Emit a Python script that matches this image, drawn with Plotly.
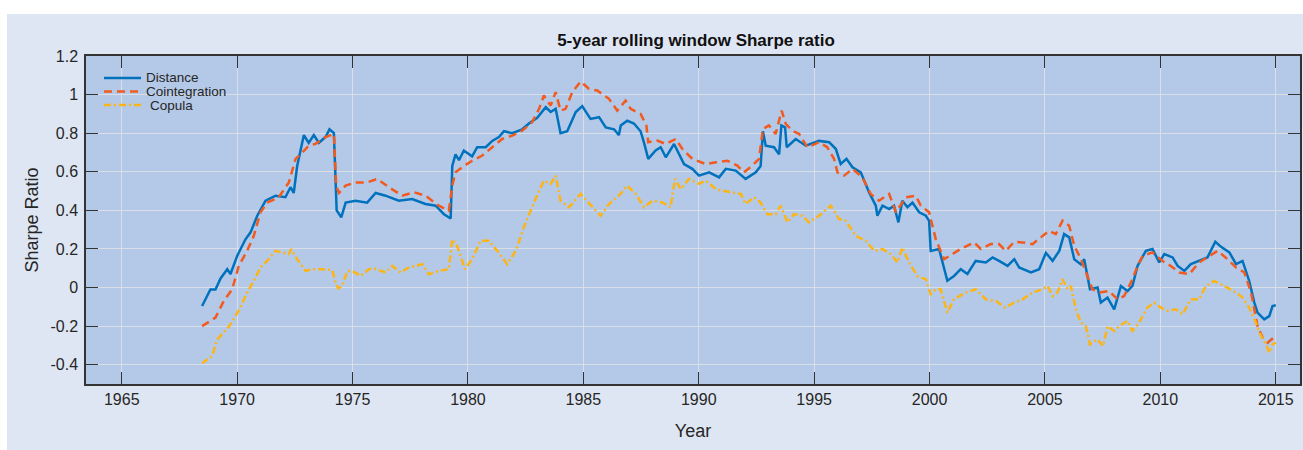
import plotly.graph_objects as go

# ---------------- data ----------------
dist_years = [1968.48, 1968.84, 1969.06, 1969.28, 1969.57, 1969.71, 1970.0, 1970.36, 1970.58, 1970.87,
              1971.23, 1971.66, 1972.09, 1972.31, 1972.45, 1972.6, 1972.89, 1973.1, 1973.32, 1973.54,
              1973.83, 1974.0, 1974.19, 1974.31, 1974.51, 1974.7, 1975.13, 1975.63, 1976.0, 1976.43,
              1977.0, 1977.58, 1978.16, 1978.6, 1978.96, 1979.25, 1979.32, 1979.46, 1979.61, 1979.82,
              1980.18, 1980.4, 1980.77, 1981.05, 1981.34, 1981.56, 1981.92, 1982.35, 1982.64, 1983.0,
              1983.37, 1983.58, 1983.8, 1984.01, 1984.3, 1984.52, 1984.67, 1984.95, 1985.31, 1985.68,
              1985.97, 1986.33, 1986.54, 1986.62, 1986.9, 1987.19, 1987.48, 1987.63, 1987.81, 1988.13,
              1988.35, 1988.57, 1988.93, 1989.36, 1989.72, 1990.01, 1990.45, 1990.88, 1991.17, 1991.6,
              1992.03, 1992.47, 1992.68, 1992.78, 1992.9, 1993.26, 1993.48, 1993.58, 1993.74, 1993.81,
              1994.2, 1994.64, 1995.21, 1995.65, 1995.94, 1996.15, 1996.4, 1996.66, 1997.02, 1997.38,
              1997.67, 1997.74, 1997.96, 1998.25, 1998.46, 1998.65, 1998.82, 1999.04, 1999.26, 1999.55,
              1999.84, 1999.98, 2000.05, 2000.41, 2000.77, 2001.06, 2001.35, 2001.64, 2002.0, 2002.44,
              2002.73, 2003.01, 2003.38, 2003.67, 2003.88, 2004.39, 2004.75, 2005.04, 2005.33, 2005.62,
              2005.83, 2006.05, 2006.27, 2006.56, 2006.7, 2006.95, 2007.28, 2007.42, 2007.71, 2008.0,
              2008.29, 2008.58, 2008.79, 2009.01, 2009.37, 2009.66, 2009.95, 2010.17, 2010.53, 2010.75,
              2011.04, 2011.32, 2011.68, 2012.04, 2012.38, 2012.63, 2012.99, 2013.28, 2013.56, 2013.85,
              2014.07, 2014.21, 2014.5, 2014.72, 2014.86, 2015.0]
dist_values = [-0.096, -0.01, -0.01, 0.047, 0.095, 0.07, 0.164, 0.25, 0.286, 0.372,
               0.45, 0.476, 0.468, 0.52, 0.49, 0.63, 0.79, 0.75, 0.79, 0.75,
               0.78, 0.82, 0.80, 0.40, 0.364, 0.44, 0.45, 0.44, 0.49, 0.476,
               0.45, 0.459, 0.433, 0.424, 0.38, 0.358, 0.63, 0.69, 0.66, 0.71,
               0.68, 0.727, 0.727, 0.76, 0.78, 0.81, 0.80, 0.82, 0.85, 0.88,
               0.935, 0.91, 0.926, 0.80, 0.81, 0.865, 0.91, 0.94, 0.874, 0.883,
               0.83, 0.82, 0.79, 0.84, 0.865, 0.85, 0.81, 0.75, 0.667, 0.71,
               0.727, 0.675, 0.744, 0.64, 0.615, 0.58, 0.597, 0.571, 0.615, 0.606,
               0.563, 0.597, 0.63, 0.81, 0.735, 0.727, 0.69, 0.84, 0.83, 0.727,
               0.77, 0.735, 0.76, 0.753, 0.718, 0.64, 0.667, 0.623, 0.597, 0.493,
               0.424, 0.372, 0.424, 0.407, 0.424, 0.338, 0.45, 0.416, 0.44, 0.39,
               0.372, 0.345, 0.19, 0.2, 0.035, 0.06, 0.095, 0.07, 0.138, 0.13,
               0.156, 0.138, 0.112, 0.147, 0.104, 0.078, 0.095, 0.18, 0.138, 0.19,
               0.277, 0.26, 0.147, 0.12, 0.147, -0.009, 0.0, -0.078, -0.052, -0.113,
               0.008, -0.018, 0.008, 0.112, 0.19, 0.2, 0.13, 0.173, 0.156, 0.112,
               0.086, 0.121, 0.138, 0.156, 0.237, 0.211, 0.182, 0.121, 0.138, 0.034,
               -0.078, -0.13, -0.165, -0.148, -0.096, -0.092]

coint_years = [1968.48, 1969.06, 1969.42, 1969.78, 1970.07, 1970.43, 1970.72, 1971.01, 1971.3, 1971.8,
               1972.24, 1972.53, 1972.82, 1973.1, 1973.4, 1973.83, 1974.19, 1974.29, 1974.41, 1974.7,
               1975.13, 1975.63, 1976.07, 1976.57, 1977.15, 1977.66, 1978.16, 1978.74, 1979.17, 1979.32,
               1979.46, 1979.82, 1980.18, 1980.62, 1981.05, 1981.48, 1981.92, 1982.35, 1982.78, 1983.08,
               1983.29, 1983.58, 1983.8, 1984.01, 1984.23, 1984.52, 1984.88, 1985.24, 1985.6, 1986.11,
               1986.47, 1986.83, 1987.05, 1987.48, 1987.73, 1987.81, 1988.2, 1988.57, 1989.0, 1989.29,
               1989.72, 1990.3, 1990.74, 1991.24, 1991.67, 1991.96, 1992.32, 1992.61, 1992.78, 1993.04,
               1993.33, 1993.59, 1993.77, 1994.06, 1994.35, 1994.71, 1995.21, 1995.57, 1995.86, 1996.01,
               1996.3, 1996.66, 1997.09, 1997.45, 1997.81, 1998.25, 1998.54, 1998.97, 1999.4, 1999.62,
               1999.98, 2000.27, 2000.63, 2000.99, 2001.35, 2001.93, 2002.22, 2002.65, 2003.01, 2003.3,
               2003.67, 2004.03, 2004.46, 2004.82, 2005.18, 2005.47, 2005.76, 2006.05, 2006.27, 2006.56,
               2006.84, 2007.06, 2007.35, 2007.78, 2008.14, 2008.43, 2008.79, 2009.01, 2009.23, 2009.66,
               2010.09, 2010.45, 2010.82, 2011.25, 2011.68, 2012.12, 2012.48, 2012.91, 2013.28, 2013.64,
               2013.93, 2014.21, 2014.43, 2014.65, 2014.9]
coint_values = [-0.2, -0.156, -0.07, -0.01, 0.112, 0.19, 0.268, 0.39, 0.44, 0.468,
                0.545, 0.667, 0.70, 0.735, 0.745, 0.78, 0.796, 0.528, 0.49, 0.528,
                0.545, 0.545, 0.563, 0.52, 0.476, 0.494, 0.476, 0.424, 0.398, 0.528,
                0.597, 0.63, 0.657, 0.684, 0.727, 0.77, 0.787, 0.813, 0.857, 0.926,
                0.995, 0.943, 1.013, 0.917, 0.926, 1.013, 1.068, 1.03, 1.021, 0.978,
                0.917, 0.969, 0.926, 0.90, 0.84, 0.753, 0.762, 0.744, 0.77, 0.718,
                0.667, 0.64, 0.649, 0.657, 0.632, 0.597, 0.632, 0.667, 0.822, 0.84,
                0.796, 0.917, 0.848, 0.813, 0.796, 0.727, 0.753, 0.727, 0.667, 0.597,
                0.58, 0.615, 0.571, 0.485, 0.45, 0.485, 0.39, 0.468, 0.476, 0.424,
                0.39, 0.25, 0.147, 0.173, 0.2, 0.234, 0.2, 0.225, 0.225, 0.19,
                0.237, 0.234, 0.225, 0.26, 0.294, 0.277, 0.346, 0.32, 0.216, 0.147,
                0.06, -0.009, -0.026, -0.018, -0.061, -0.044, 0.043, 0.112, 0.164, 0.182,
                0.138, 0.112, 0.078, 0.069, 0.13, 0.164, 0.19, 0.147, 0.104, 0.078,
                -0.026, -0.2, -0.26, -0.286, -0.26]

cop_years = [1968.48, 1968.92, 1969.13, 1969.35, 1969.64, 1969.93, 1970.14, 1970.43, 1970.72, 1971.01,
             1971.3, 1971.66, 1971.95, 1972.24, 1972.34, 1972.6, 1972.96, 1973.25, 1973.68, 1974.12,
             1974.26, 1974.38, 1974.55, 1974.77, 1974.98, 1975.35, 1975.71, 1975.92, 1976.43, 1976.72,
             1977.08, 1977.44, 1978.02, 1978.31, 1978.74, 1979.17, 1979.32, 1979.53, 1979.87, 1980.18,
             1980.55, 1980.91, 1981.27, 1981.7, 1982.07, 1982.5, 1982.93, 1983.29, 1983.58, 1983.8,
             1984.01, 1984.38, 1984.88, 1985.39, 1985.75, 1986.11, 1986.54, 1986.9, 1987.27, 1987.63,
             1987.99, 1988.42, 1988.78, 1988.97, 1989.22, 1989.58, 1990.01, 1990.3, 1990.74, 1991.02,
             1991.46, 1991.82, 1992.03, 1992.39, 1992.68, 1992.97, 1993.33, 1993.55, 1993.84, 1994.13,
             1994.49, 1994.78, 1995.21, 1995.72, 1996.08, 1996.37, 1996.8, 1997.24, 1997.6, 1997.96,
             1998.32, 1998.61, 1998.82, 1999.11, 1999.47, 1999.84, 2000.05, 2000.27, 2000.48, 2000.77,
             2001.06, 2001.57, 2002.0, 2002.44, 2002.87, 2003.27, 2003.67, 2004.03, 2004.46, 2004.89,
             2005.11, 2005.33, 2005.54, 2005.76, 2005.98, 2006.12, 2006.34, 2006.56, 2006.77, 2006.95,
             2007.28, 2007.52, 2007.71, 2008.0, 2008.22, 2008.58, 2008.79, 2009.08, 2009.44, 2009.73,
             2010.02, 2010.31, 2010.67, 2010.96, 2011.32, 2011.68, 2011.97, 2012.33, 2012.63, 2012.99,
             2013.28, 2013.56, 2013.85, 2014.14, 2014.36, 2014.58, 2014.72, 2014.86, 2015.0]
cop_values = [-0.393, -0.355, -0.27, -0.243, -0.203, -0.147, -0.104, -0.026, 0.034, 0.104,
              0.138, 0.19, 0.182, 0.173, 0.199, 0.147, 0.086, 0.095, 0.095, 0.091,
              0.026, -0.005, 0.008, 0.086, 0.086, 0.06, 0.095, 0.099, 0.078, 0.112,
              0.078, 0.104, 0.121, 0.069, 0.086, 0.095, 0.25, 0.216, 0.095, 0.147,
              0.242, 0.242, 0.19, 0.121, 0.19, 0.338, 0.459, 0.554, 0.537, 0.58,
              0.45, 0.416, 0.485, 0.416, 0.372, 0.433, 0.476, 0.528, 0.485, 0.416,
              0.45, 0.441, 0.416, 0.563, 0.51, 0.563, 0.537, 0.554, 0.51, 0.502,
              0.493, 0.485, 0.433, 0.468, 0.441, 0.38, 0.38, 0.424, 0.338, 0.38,
              0.372, 0.338, 0.372, 0.424, 0.355, 0.346, 0.268, 0.242, 0.19, 0.199,
              0.173, 0.13, 0.208, 0.13, 0.06, 0.043, -0.035, -0.009, -0.009, -0.13,
              -0.06, -0.026, -0.009, -0.061, -0.07, -0.104, -0.078, -0.061, -0.026, -0.009,
              0.008, -0.044, -0.026, 0.043, -0.009, 0.008, -0.113, -0.182, -0.2, -0.295,
              -0.269, -0.303, -0.2, -0.225, -0.2, -0.173, -0.225, -0.182, -0.104, -0.078,
              -0.104, -0.121, -0.113, -0.139, -0.061, -0.061, 0.008, 0.034, 0.017, -0.009,
              -0.026, -0.052, -0.104, -0.182, -0.251, -0.295, -0.338, -0.295, -0.286]

series_names = ["Distance", "Cointegration", "Copula"]
x_ticks = [1965, 1970, 1975, 1980, 1985, 1990, 1995, 2000, 2005, 2010, 2015]
y_ticks = [-0.4, -0.2, 0, 0.2, 0.4, 0.6, 0.8, 1.0, 1.2]
y_tick_labels = ["-0.4", "-0.2", "0", "0.2", "0.4", "0.6", "0.8", "1", "1.2"]

# ---------------- styling ----------------
FONT = "Liberation Sans, Arial, sans-serif"
TXT = "#262626"
colors = ["#0072BD", "#F25A1E", "#FDB515"]
dashes = ["solid", "8px,5px", "7px,3px,2px,3px"]
widths = [2.5, 2.5, 2.5]

W, H = 1303, 450
ML, MR, MT, MB = 86, 3, 56, 66
PW, PH = W - ML - MR, H - MT - MB

def px_x(p):  # pixel -> paper
    return (p - ML) / PW

def px_y(p):
    return (H - MB - p) / PH

fig = go.Figure()
for name, xs, ys, c, d, w in zip(series_names,
                                  [dist_years, coint_years, cop_years],
                                  [dist_values, coint_values, cop_values],
                                  colors, dashes, widths):
    fig.add_trace(go.Scatter(x=xs, y=ys, mode="lines", name=name,
                             line=dict(color=c, dash=d, width=w), showlegend=False))

shapes = [
    # light outer panel
    dict(type="rect", xref="paper", yref="paper", layer="below",
         x0=px_x(7), x1=px_x(W + 5), y0=px_y(H + 5), y1=px_y(14),
         fillcolor="#DFE6F3", line=dict(width=0)),
    # plot area
    dict(type="rect", xref="paper", yref="paper", layer="below",
         x0=0, x1=1, y0=0, y1=1, fillcolor="#B4C9E7", line=dict(width=0)),
]
annotations = []
legend_rows = [78, 91.5, 105]
legend_text_x = [144, 144, 148]
for i, name in enumerate(series_names):
    shapes.append(dict(type="line", xref="paper", yref="paper", layer="above",
                       x0=px_x(104), x1=px_x(141), y0=px_y(legend_rows[i]), y1=px_y(legend_rows[i]),
                       line=dict(color=colors[i], width=widths[i], dash=dashes[i])))
    annotations.append(dict(text=name, xref="paper", yref="paper", showarrow=False,
                            x=px_x(legend_text_x[i]), y=px_y(legend_rows[i]),
                            xanchor="left", yanchor="middle",
                            font=dict(family=FONT, size=13.5, color=TXT)))

axis_common = dict(showline=True, linecolor="#333333", linewidth=1.5, mirror="ticks",
                   ticks="inside", ticklen=12, tickwidth=1.3, tickcolor="#333333",
                   showgrid=True, gridcolor="#DADFE7", gridwidth=1.3, zeroline=False,
                   tickfont=dict(family=FONT, size=16, color=TXT))

fig.update_layout(
    width=W, height=H,
    margin=dict(l=ML, r=MR, t=MT, b=MB, autoexpand=False),
    paper_bgcolor="white", plot_bgcolor="rgba(0,0,0,0)",
    shapes=shapes, annotations=annotations,
    title=dict(text="<b>5-year rolling window Sharpe ratio</b>", x=(px_x(696) * PW + ML) / W,
               xanchor="center", y=1 - 40 / H, yanchor="middle", yref="container",
               font=dict(family=FONT, size=17, color="#111111")),
    xaxis=dict(range=[1963.45, 2016.05], tickvals=x_ticks, ticktext=[str(v) for v in x_ticks],
               title=dict(text="Year", font=dict(family=FONT, size=18, color=TXT), standoff=17),
               **axis_common),
    yaxis=dict(range=[-0.5, 1.2], tickvals=y_ticks, ticktext=y_tick_labels, ticklabelstandoff=3,
               title=dict(text="Sharpe Ratio", font=dict(family=FONT, size=18, color=TXT), standoff=7),
               **axis_common),
)

fig.write_html("out.html", config={"displayModeBar": False},
               post_script="document.body.style.margin='0';document.body.style.padding='0';"
                           "document.body.style.overflow='hidden';")
